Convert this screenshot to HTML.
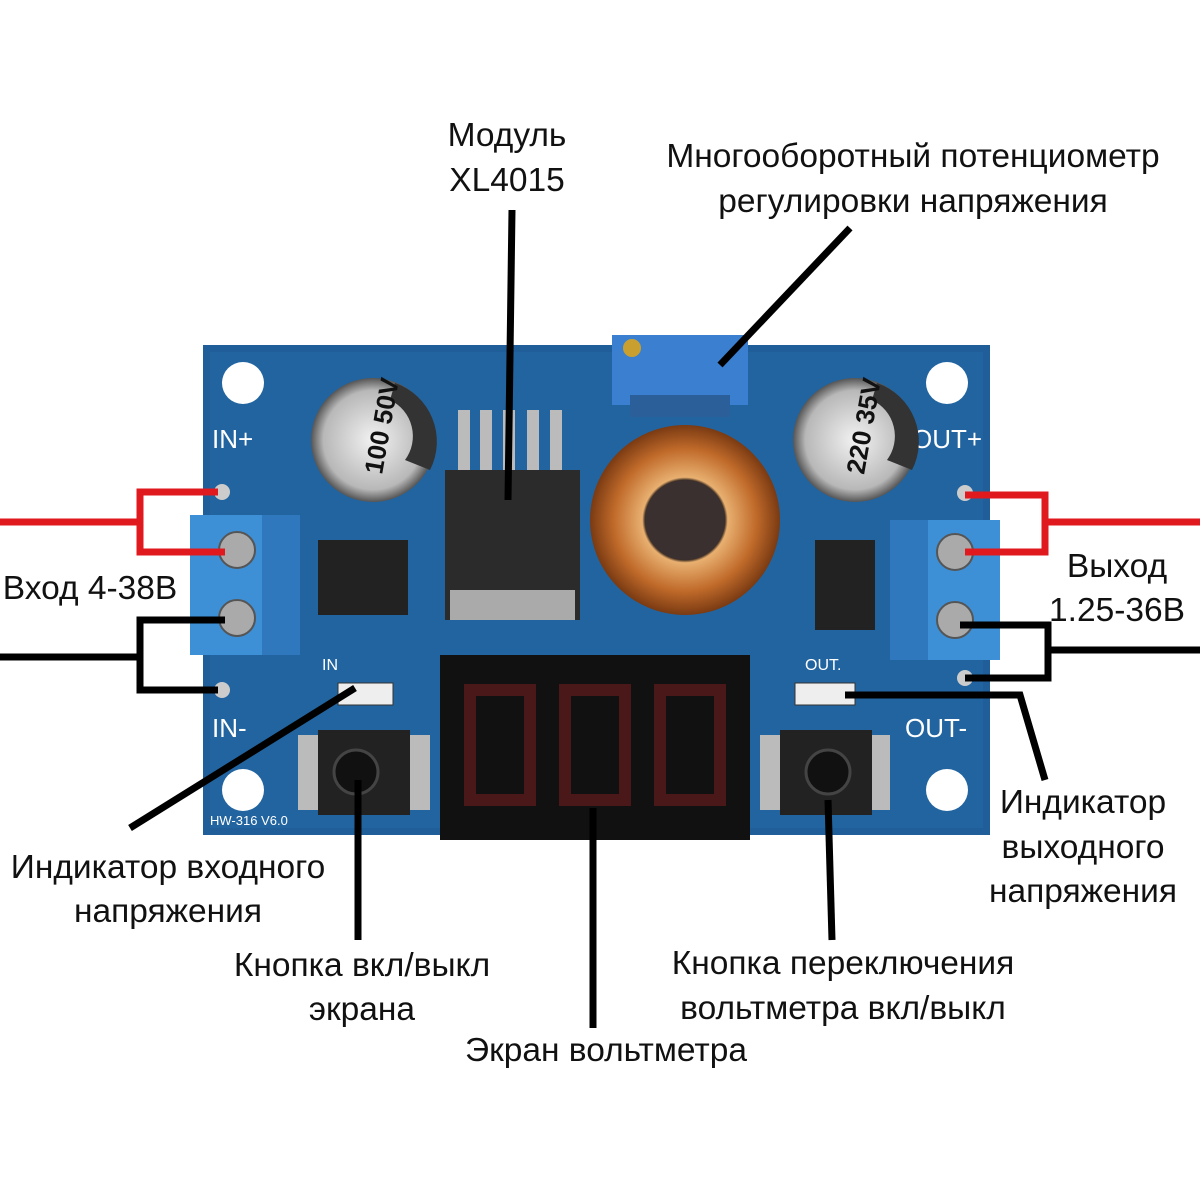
<!DOCTYPE html>
<html><head><meta charset="utf-8"><style>
html,body{margin:0;padding:0;background:#fff;width:1200px;height:1200px;overflow:hidden}
svg text{font-family:"Liberation Sans","DejaVu Sans",sans-serif;fill:#111;font-size:33.5px}
</style></head><body>
<svg width="1200" height="1200" viewBox="0 0 1200 1200" xmlns="http://www.w3.org/2000/svg">
<defs>
<radialGradient id="cap" cx="0.5" cy="0.5" r="0.5"><stop offset="0" stop-color="#f2f2f2"/><stop offset="0.8" stop-color="#b8b8b8"/><stop offset="1" stop-color="#555"/></radialGradient>
<radialGradient id="tor" cx="0.5" cy="0.5" r="0.5"><stop offset="0.42" stop-color="#3a2a20"/><stop offset="0.45" stop-color="#e8b070"/><stop offset="0.75" stop-color="#c06a2a"/><stop offset="1" stop-color="#7a3a12"/></radialGradient>
</defs>
<rect x="203" y="345" width="787" height="490" fill="#1f5e98"/>
<rect x="210" y="352" width="773" height="476" fill="#22649f"/>
<circle cx="243" cy="383" r="21" fill="#fff"/><circle cx="947" cy="383" r="21" fill="#fff"/>
<circle cx="243" cy="790" r="21" fill="#fff"/><circle cx="947" cy="790" r="21" fill="#fff"/>
<text x="212" y="448" style="fill:#fff;font-size:26px">IN+</text>
<text x="212" y="737" style="fill:#fff;font-size:26px">IN-</text>
<text x="912" y="448" style="fill:#fff;font-size:26px">OUT+</text>
<text x="905" y="737" style="fill:#fff;font-size:26px">OUT-</text>
<text x="322" y="670" style="fill:#fff;font-size:16px">IN</text>
<text x="805" y="670" style="fill:#fff;font-size:16px">OUT.</text>
<text x="210" y="825" style="fill:#fff;font-size:13px">HW-316  V6.0</text>
<rect x="190" y="515" width="110" height="140" fill="#3d8fd6"/>
<rect x="262" y="515" width="38" height="140" fill="#2f78bd"/>
<circle cx="237" cy="550" r="18" fill="#aaa" stroke="#555" stroke-width="2"/>
<circle cx="237" cy="618" r="18" fill="#aaa" stroke="#555" stroke-width="2"/>
<rect x="890" y="520" width="110" height="140" fill="#3d8fd6"/>
<rect x="890" y="520" width="38" height="140" fill="#2f78bd"/>
<circle cx="955" cy="552" r="18" fill="#aaa" stroke="#555" stroke-width="2"/>
<circle cx="955" cy="620" r="18" fill="#aaa" stroke="#555" stroke-width="2"/>
<circle cx="222" cy="492" r="8" fill="#ccc"/><circle cx="222" cy="690" r="8" fill="#ccc"/>
<circle cx="965" cy="493" r="8" fill="#ccc"/><circle cx="965" cy="678" r="8" fill="#ccc"/>
<circle cx="373" cy="440" r="62" fill="url(#cap)"/>
<path d="M395,383 A62,62 0 0 1 430,470 L405,460 A40,40 0 0 0 390,400Z" fill="#333"/>
<text x="340" y="455" style="font-size:26px;font-weight:bold" transform="rotate(-80 373 440)">100 50V</text>
<circle cx="855" cy="440" r="62" fill="url(#cap)"/>
<path d="M877,383 A62,62 0 0 1 912,470 L887,460 A40,40 0 0 0 872,400Z" fill="#333"/>
<text x="822" y="455" style="font-size:26px;font-weight:bold" transform="rotate(-80 855 440)">220 35V</text>
<rect x="612" y="335" width="136" height="70" fill="#3a7fd0"/>
<rect x="630" y="395" width="100" height="22" fill="#2a5f9a"/>
<circle cx="632" cy="348" r="9" fill="#c9a030"/>
<g fill="#bbb"><rect x="458" y="410" width="12" height="60"/><rect x="480" y="410" width="12" height="60"/><rect x="503" y="410" width="12" height="60"/><rect x="527" y="410" width="12" height="60"/><rect x="550" y="410" width="12" height="60"/></g>
<rect x="445" y="470" width="135" height="150" fill="#2b2b2b"/>
<rect x="450" y="590" width="125" height="30" fill="#aaa"/>
<rect x="318" y="540" width="90" height="75" fill="#222"/>
<circle cx="685" cy="520" r="95" fill="url(#tor)"/>
<circle cx="685" cy="520" r="40" fill="#3a3030"/>
<rect x="815" y="540" width="60" height="90" fill="#222"/>
<rect x="440" y="655" width="310" height="185" fill="#111"/>
<g fill="none" stroke="#4a1818" stroke-width="12">
<rect x="470" y="690" width="60" height="110"/><rect x="565" y="690" width="60" height="110"/><rect x="660" y="690" width="60" height="110"/>
</g>
<rect x="298" y="735" width="132" height="75" fill="#bbb"/>
<rect x="318" y="730" width="92" height="85" fill="#222"/>
<circle cx="356" cy="772" r="22" fill="#111" stroke="#444" stroke-width="3"/>
<rect x="760" y="735" width="130" height="75" fill="#bbb"/>
<rect x="780" y="730" width="92" height="85" fill="#222"/>
<circle cx="828" cy="772" r="22" fill="#111" stroke="#444" stroke-width="3"/>
<rect x="338" y="683" width="55" height="22" fill="#eee" stroke="#333"/>
<rect x="795" y="683" width="60" height="22" fill="#eee" stroke="#333"/>
<g fill="none" stroke="#e0191f" stroke-width="7">
<polyline points="0,522 140,522"/><polyline points="218,492 140,492 140,552 225,552"/>
<polyline points="1200,522 1045,522"/><polyline points="965,495 1045,495 1045,552 965,552"/>
</g>
<g fill="none" stroke="#000" stroke-width="7">
<polyline points="0,657 140,657"/><polyline points="225,620 140,620 140,690 218,690"/>
<polyline points="1200,650 1048,650"/><polyline points="960,625 1048,625 1048,678 965,678"/>
<line x1="512" y1="210" x2="508" y2="500"/>
<line x1="850" y1="228" x2="720" y2="365"/>
<line x1="130" y1="828" x2="355" y2="688"/>
<line x1="358" y1="780" x2="358" y2="940"/>
<line x1="593" y1="808" x2="593" y2="1028"/>
<line x1="828" y1="800" x2="832" y2="940"/>
<polyline points="845,695 1020,695 1045,780"/>
</g>
<g text-anchor="middle">
<text x="507" y="146">Модуль</text><text x="507" y="191">XL4015</text>
<text x="913" y="167">Многооборотный потенциометр</text><text x="913" y="212">регулировки напряжения</text>
<text x="90" y="599">Вход 4-38В</text>
<text x="1117" y="577">Выход</text><text x="1117" y="621">1.25-36В</text>
<text x="168" y="878">Индикатор входного</text><text x="168" y="922">напряжения</text>
<text x="1083" y="813">Индикатор</text><text x="1083" y="858">выходного</text><text x="1083" y="902">напряжения</text>
<text x="362" y="976">Кнопка вкл/выкл</text><text x="362" y="1020">экрана</text>
<text x="843" y="974">Кнопка переключения</text><text x="843" y="1019">вольтметра вкл/выкл</text>
<text x="606" y="1061">Экран вольтметра</text>
</g>
</svg>
</body></html>
